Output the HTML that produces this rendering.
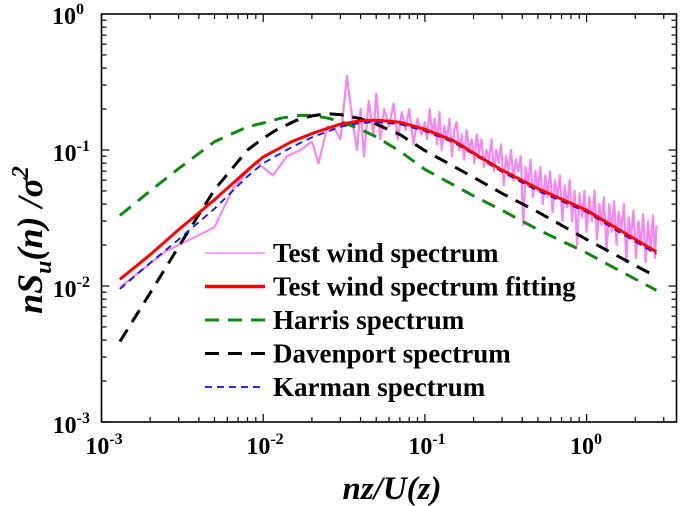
<!DOCTYPE html>
<html><head><meta charset="utf-8">
<style>
html,body{margin:0;padding:0;background:#fff;}
svg{display:block;font-family:"Liberation Serif",serif;}
</style></head>
<body>
<svg id="chart" width="685" height="506" viewBox="0 0 685 506" xmlns="http://www.w3.org/2000/svg">
  <g id="marks"></g>
  <rect x="101.5" y="14" width="575" height="408" fill="none" stroke="#000" stroke-width="1.6"/>
  <g id="ticks"></g>
  <g font-weight="bold" font-size="24" text-anchor="end">
    <text x="84" y="24">10<tspan dy="-10" font-size="16">0</tspan></text>
    <text x="90" y="161">10<tspan dy="-10" font-size="16">-1</tspan></text>
    <text x="90" y="297">10<tspan dy="-10" font-size="16">-2</tspan></text>
    <text x="90" y="433">10<tspan dy="-10" font-size="16">-3</tspan></text>
  </g>
  <g font-weight="bold" font-size="24" text-anchor="middle">
    <text x="104" y="454">10<tspan dy="-10" font-size="16">-3</tspan></text>
    <text x="265" y="454">10<tspan dy="-10" font-size="16">-2</tspan></text>
    <text x="427" y="454">10<tspan dy="-10" font-size="16">-1</tspan></text>
    <text x="586" y="454">10<tspan dy="-10" font-size="16">0</tspan></text>
  </g>
  <text x="392" y="499" text-anchor="middle" font-weight="bold" font-style="italic" font-size="33">nz/U(z)</text>
  <text transform="translate(42,240) rotate(-90)" text-anchor="middle" font-weight="bold" font-style="italic" font-size="36">nS<tspan dy="9" font-size="24">u</tspan><tspan dy="-9">(n) /σ</tspan><tspan dy="-14" font-size="24">2</tspan></text>
  <g id="legend" font-weight="bold" font-size="27"></g>
</svg>
<script>
const testX = [0.0013,0.0025,0.005,0.0065,0.009,0.0115,0.014,0.017,0.02,0.022,0.025,0.028,0.03,0.033,0.036,0.038,0.04,0.042,0.045,0.048,0.05,0.053,0.056,0.06,0.064,0.068,0.072,0.076,0.08,0.085,0.09,0.095,
0.1,0.103,0.107,0.111,0.115,0.119,0.123,0.127,0.132,0.137,0.142,0.147,0.152,0.157,0.163,0.169,0.175,0.181,0.188,0.195,0.202,0.209,0.216,0.224,0.232,0.24,0.249,0.258,0.267,0.276,0.286,0.296,0.307,0.318,0.329,0.341,0.353,0.365,0.378,0.392,0.406,0.42,0.435,0.45,0.466,0.483,0.5,0.518,0.536,0.555,0.575,0.595,0.616,0.638,0.661,0.684,0.708,0.733,0.759,0.786,0.814,0.843,0.873,0.904,0.936,0.969,1.0,1.04,1.08,1.12,1.16,1.2,1.24,1.28,1.33,1.38,1.43,1.48,1.53,1.58,1.64,1.7,1.76,1.82,1.88,1.95,2.02,2.09,2.16,2.24,2.32,2.4,2.48,2.57,2.65,2.7];
const testY = [0.0098,0.018,0.027,0.052,0.082,0.065,0.09,0.1,0.115,0.08,0.15,0.14,0.12,0.35,0.15,0.1,0.2,0.09,0.23,0.13,0.26,0.12,0.2,0.15,0.22,0.12,0.19,0.14,0.2,0.11,0.17,0.13,
0.16,0.12,0.2,0.13,0.17,0.11,0.19,0.1,0.15,0.12,0.17,0.09,0.14,0.16,0.1,0.13,0.085,0.14,0.1,0.12,0.08,0.13,0.095,0.12,0.075,0.1,0.085,0.12,0.07,0.1,0.08,0.11,0.055,0.09,0.07,0.1,0.06,0.085,0.07,0.09,0.028,0.075,0.055,0.085,0.045,0.07,0.05,0.075,0.04,0.065,0.045,0.07,0.035,0.06,0.045,0.065,0.03,0.055,0.038,0.06,0.03,0.05,0.02,0.048,0.032,0.05,0.025,0.045,0.03,0.05,0.022,0.04,0.028,0.045,0.018,0.04,0.025,0.042,0.02,0.035,0.026,0.04,0.015,0.032,0.022,0.036,0.016,0.03,0.02,0.034,0.015,0.03,0.018,0.033,0.016,0.028];
const fitX = [0.0013,0.002,0.003,0.005,0.008,0.01,0.015,0.02,0.03,0.04,0.05,0.07,0.1,0.15,0.2,0.3,0.5,1,1.5,2.7];
const fitY = [0.0112,0.017,0.026,0.043,0.071,0.089,0.115,0.132,0.155,0.164,0.166,0.16,0.142,0.117,0.095,0.071,0.052,0.036,0.027,0.0178];
const karY = [0.0095,0.0148,0.022,0.037,0.064,0.08,0.105,0.124,0.148,0.158,0.16,0.155,0.138,0.114,0.093,0.069,0.05,0.035,0.026,0.0172];
const harX = [0.0013,0.002,0.003,0.005,0.008,0.01,0.013,0.017,0.02,0.025,0.03,0.04,0.05,0.07,0.1,0.2,0.3,0.5,1,1.5,2.7];
const harY = [0.033,0.05,0.073,0.115,0.148,0.158,0.172,0.18,0.179,0.172,0.162,0.142,0.125,0.098,0.072,0.046,0.036,0.026,0.0175,0.0135,0.0093];
const davX = [0.0013,0.002,0.003,0.005,0.008,0.01,0.012,0.016,0.02,0.025,0.03,0.04,0.05,0.07,0.1,0.2,0.3,0.5,1,1.5,2.7];
const davY = [0.0039,0.0089,0.0195,0.051,0.1,0.122,0.14,0.165,0.178,0.185,0.182,0.17,0.155,0.13,0.099,0.063,0.048,0.035,0.022,0.017,0.0117];
const legendLabels = ["Test wind spectrum","Test wind spectrum fitting","Harris spectrum","Davenport spectrum","Karman spectrum"];

const L=101.5,R=676.5,T=14,B=422;
const xs = v => L + (Math.log10(v)+3)*161.7;
const ys = v => T + (-Math.log10(v))*136;
const NS="http://www.w3.org/2000/svg";
const marks=document.getElementById('marks');
function path(xa,ya,color,w,dash,name){
  const p=document.createElementNS(NS,'path');
  let d='';
  for(let i=0;i<xa.length;i++) d+=(i?'L':'M')+xs(xa[i]).toFixed(1)+','+ys(ya[i]).toFixed(1);
  p.setAttribute('d',d);p.setAttribute('fill','none');p.setAttribute('stroke',color);
  p.setAttribute('stroke-width',w);p.setAttribute('stroke-linejoin','round');
  if(dash)p.setAttribute('stroke-dasharray',dash);
  
  
  marks.appendChild(p);
}
path(testX,testY,'#f587f0',2.2,null,'test-wind-spectrum-line');
path(harX,harY,'#118811',3,'14,9','harris-spectrum-line');
path(davX,davY,'#000',3,'14,9','davenport-spectrum-line');
path(fitX,karY,'#1010ee',1.8,'7,5','karman-spectrum-line');
path(fitX,fitY,'#ff0000',3,null,'test-fitting-line');

const tk=document.getElementById('ticks');
function line(x1,y1,x2,y2){
  const l=document.createElementNS(NS,'line');
  l.setAttribute('x1',x1);l.setAttribute('y1',y1);l.setAttribute('x2',x2);l.setAttribute('y2',y2);
  l.setAttribute('stroke','#000');l.setAttribute('stroke-width',1.2);
  
  
  tk.appendChild(l);
}
for(let e=-3;e<=0;e++)for(let m=1;m<10;m++){
  const v=m*Math.pow(10,e);const x=xs(v);if(x>R-1)continue;const len=m==1?8:5;
  line(x,B,x,B-len);line(x,T,x,T+len);
}
for(let e=-3;e<0;e++)for(let m=1;m<10;m++){
  const v=m*Math.pow(10,e);const y=ys(v);const len=m==1?8:5;
  line(L,y,L+len,y);line(R,y,R-len,y);
}
const lg=document.getElementById('legend');
const styles=[['#f587f0',1.6,null],['#ff0000',3.5,null],['#118811',3,'14,9'],['#000',3,'14,9'],['#1010ee',1.8,'7,5']];
legendLabels.forEach((t,i)=>{
  const y=253+i*33.5;
  const l=document.createElementNS(NS,'line');
  l.setAttribute('x1',205);l.setAttribute('x2',265);l.setAttribute('y1',y);l.setAttribute('y2',y);
  l.setAttribute('stroke',styles[i][0]);l.setAttribute('stroke-width',styles[i][1]);
  if(styles[i][2])l.setAttribute('stroke-dasharray',styles[i][2]);
  
  
  lg.appendChild(l);
  const tx=document.createElementNS(NS,'text');
  tx.setAttribute('x',273);tx.setAttribute('y',y+9);tx.textContent=t;
  
  
  lg.appendChild(tx);
});
</script>
</body></html>
